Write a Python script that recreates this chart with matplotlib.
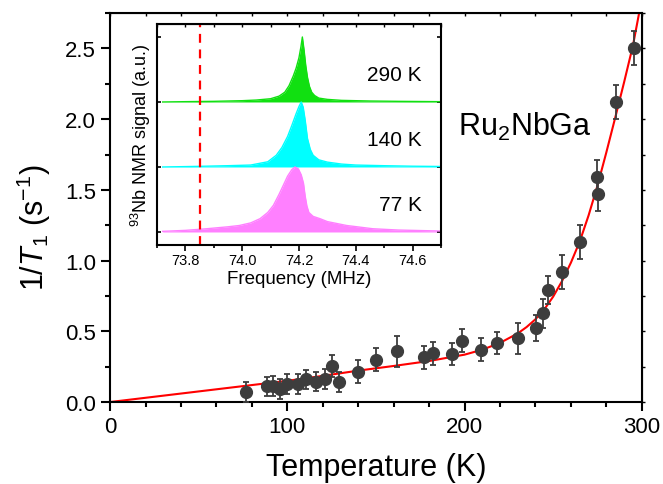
import matplotlib
matplotlib.use("Agg")
import matplotlib.pyplot as plt
from matplotlib.ticker import MultipleLocator

plt.rcParams['font.family'] = ['Liberation Sans', 'DejaVu Sans']
plt.rcParams['mathtext.fontset'] = 'custom'
plt.rcParams['mathtext.rm'] = 'Liberation Sans'
plt.rcParams['mathtext.it'] = 'Liberation Sans:italic'

# 1/T1 data
temps = [76.7, 88.4, 92.2, 95.9, 99.7, 105.8, 110.6, 116.0, 121.0, 125.2,
         129.1, 140.0, 150.1, 162.1, 177.2, 182.4, 193.2, 198.4, 209.2, 218.5,
         230.4, 240.4, 244.1, 247.3, 255.2, 265.4, 274.8, 275.5, 285.3, 295.7]
rates = [0.07, 0.11, 0.115, 0.09, 0.125, 0.125, 0.16, 0.145, 0.162, 0.256,
         0.141, 0.215, 0.30, 0.36, 0.316, 0.344, 0.339, 0.433, 0.37, 0.417,
         0.45, 0.523, 0.626, 0.79, 0.916, 1.132, 1.59, 1.47, 2.12, 2.50]
errors = [0.07, 0.07, 0.07, 0.07, 0.07, 0.07, 0.07, 0.07, 0.07, 0.08,
          0.07, 0.08, 0.08, 0.11, 0.08, 0.08, 0.08, 0.08, 0.08, 0.08,
          0.11, 0.09, 0.10, 0.10, 0.12, 0.12, 0.12, 0.12, 0.12, 0.12]

# fit curve
fit_T = [0, 20, 40, 60, 80, 100, 120, 140, 160, 180, 200, 210, 220, 230,
         235, 240, 245, 250, 255, 260, 265, 270, 275, 280, 285, 290, 295, 298.5]
fit_v = [0, 0.03, 0.06, 0.09, 0.12, 0.15, 0.185, 0.222, 0.255, 0.29, 0.335,
         0.37, 0.418, 0.485, 0.53, 0.585, 0.655, 0.745, 0.855, 0.985, 1.135,
         1.32, 1.53, 1.765, 2.01, 2.26, 2.52, 2.75]

# inset spectra (normalized)
f290 = [73.72, 73.80, 73.90, 74.00, 74.05, 74.10, 74.13, 74.15, 74.165, 74.18,
        74.19, 74.20, 74.207, 74.212, 74.218, 74.224, 74.23, 74.237, 74.245,
        74.255, 74.27, 74.30, 74.35, 74.45, 74.55, 74.70]
s290 = [0.0, 0.005, 0.01, 0.02, 0.03, 0.05, 0.09, 0.15, 0.25, 0.40,
        0.52, 0.68, 0.85, 1.0, 0.80, 0.56, 0.38, 0.24, 0.15,
        0.10, 0.06, 0.04, 0.025, 0.015, 0.01, 0.005]
f140 = [73.72, 73.85, 73.95, 74.03, 74.09, 74.12, 74.14, 74.16, 74.175, 74.19,
        74.20, 74.208, 74.215, 74.222, 74.23, 74.24, 74.25, 74.27, 74.30,
        74.35, 74.40, 74.50, 74.60, 74.70]
s140 = [0.0, 0.01, 0.02, 0.03, 0.08, 0.18, 0.30, 0.47, 0.64, 0.82,
        0.93, 1.0, 0.92, 0.72, 0.44, 0.27, 0.18, 0.11, 0.075,
        0.045, 0.03, 0.02, 0.012, 0.008]
f77 = [73.72, 73.80, 73.875, 73.95, 73.99, 74.03, 74.063, 74.09, 74.11, 74.13,
       74.145, 74.16, 74.175, 74.186, 74.198, 74.208, 74.216, 74.222, 74.228,
       74.235, 74.25, 74.274, 74.30, 74.368, 74.46, 74.55, 74.70]
s77 = [0.01, 0.025, 0.05, 0.08, 0.10, 0.14, 0.205, 0.30, 0.41, 0.58,
       0.72, 0.86, 0.96, 1.0, 0.97, 0.88, 0.75, 0.55, 0.40,
       0.30, 0.24, 0.205, 0.16, 0.10, 0.05, 0.03, 0.015]
spectra = [(f77, s77, 0, '#ff80ff', '77 K'),
           (f140, s140, 1, '#00ffff', '140 K'),
           (f290, s290, 2, '#11e011', '290 K')]
ref_freq = 73.85

fig = plt.figure(figsize=(6.63, 4.85), dpi=100)
ax = fig.add_axes([0.166, 0.169, 0.802, 0.802])

ax.plot(fit_T, fit_v, color='red', lw=1.5, zorder=2)
ax.errorbar(temps, rates, yerr=errors, fmt='o', color='#3d3d3d', ms=8.5,
            elinewidth=1.3, capsize=2.5, capthick=1.3, zorder=3)

ax.set_xlim(0, 300)
ax.set_ylim(0, 2.75)
ax.xaxis.set_major_locator(MultipleLocator(100))
ax.xaxis.set_minor_locator(MultipleLocator(20))
ax.yaxis.set_major_locator(MultipleLocator(0.5))
ax.yaxis.set_minor_locator(MultipleLocator(0.25))
ax.yaxis.set_major_formatter(matplotlib.ticker.FormatStrFormatter('%.1f'))
ax.tick_params(which='both', direction='out', width=1.5, labelsize=16)
ax.tick_params(which='major', length=6.5)
ax.tick_params(which='minor', length=3.5)
for sp in ax.spines.values():
    sp.set_linewidth(1.5)

top = ax.secondary_xaxis('top')
top.xaxis.set_major_locator(MultipleLocator(20))
top.tick_params(direction='in', length=2, width=1, labeltop=False)
right = ax.secondary_yaxis('right')
right.yaxis.set_major_locator(MultipleLocator(0.25))
right.tick_params(direction='out', length=2.5, width=1, labelright=False)

ax.set_xlabel('Temperature (K)', fontsize=22)
ax.set_ylabel(r'1/$\mathit{T}_1$ (s$^{-1}$)', fontsize=22)
ax.xaxis.set_label_coords(0.5, -0.128)
ax.yaxis.set_label_coords(-0.107, 0.45)

ax.text(234, 1.95, r'Ru$_2$NbGa', fontsize=22, ha='center', va='center')

# inset
ins = fig.add_axes([0.2368, 0.4928, 0.4282, 0.4557])
for f, s, base, col, lab in spectra:
    top_line = [base + v for v in s]
    ins.fill_between(f, base, top_line, color=col, lw=0)
    ins.plot(f, top_line, color=col, lw=1)
    ins.text(74.633, base + 0.43, lab, fontsize=15, ha='right', va='center')
ins.axvline(ref_freq, color='red', ls=(0, (4, 3)), lw=1.6)

ins.set_xlim(73.7, 74.7)
ins.set_ylim(-0.2, 3.2)
ins.xaxis.set_major_locator(MultipleLocator(0.2))
ins.xaxis.set_minor_locator(MultipleLocator(0.1))
ins.yaxis.set_major_locator(MultipleLocator(1))
ins.tick_params(axis='x', which='both', direction='out', width=1.2, labelsize=10.5, pad=2)
ins.tick_params(axis='x', which='major', length=4)
ins.tick_params(axis='x', which='minor', length=2.5)
ins.tick_params(axis='y', direction='in', right=True, length=3, width=1.2,
                labelleft=False)
for sp in ins.spines.values():
    sp.set_linewidth(1.5)
itop = ins.secondary_xaxis('top')
itop.xaxis.set_major_locator(MultipleLocator(0.1))
itop.tick_params(direction='in', length=2, width=1, labeltop=False)

ins.set_xlabel('Frequency (MHz)', fontsize=13.5, labelpad=2)
ins.set_ylabel(r'$^{93}$Nb NMR signal (a.u.)', fontsize=13, labelpad=3)

fig.savefig('out.png', dpi=100)
